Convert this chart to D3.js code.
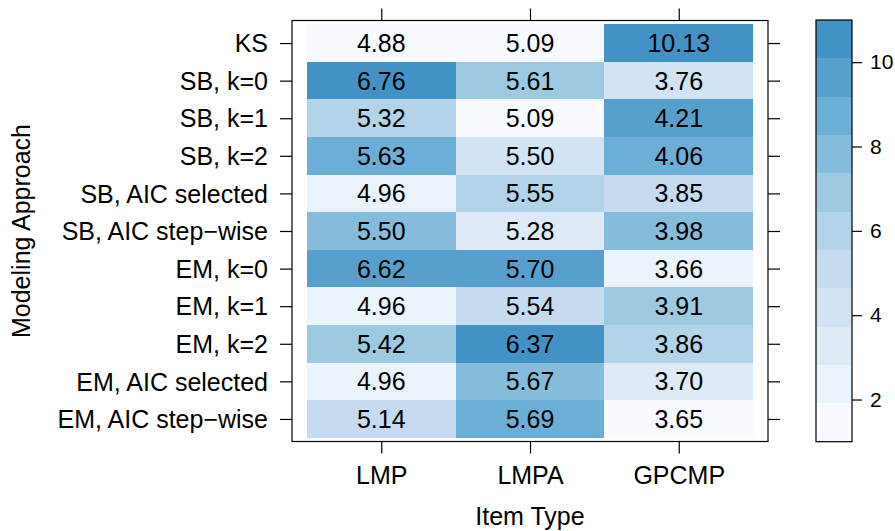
<!DOCTYPE html>
<html>
<head>
<meta charset="utf-8">
<script src="https://cdn.jsdelivr.net/npm/d3@7/dist/d3.min.js"></script>
<style>
  html, body { margin: 0; padding: 0; background: #fff; }
  svg { display: block; font-family: "Liberation Sans", Arial, Helvetica, sans-serif; }
</style>
</head>
<body>
<svg id="chart" width="895" height="531"></svg>
<script>
// ---- data ----
const approaches = ["KS", "SB, k=0", "SB, k=1", "SB, k=2", "SB, AIC selected", "SB, AIC step\u2212wise",
  "EM, k=0", "EM, k=1", "EM, k=2", "EM, AIC selected", "EM, AIC step\u2212wise"];
const itemTypes = ["LMP", "LMPA", "GPCMP"];
const valuesLMP   = [4.88, 6.76, 5.32, 5.63, 4.96, 5.50, 6.62, 4.96, 5.42, 4.96, 5.14];
const valuesLMPA  = [5.09, 5.61, 5.09, 5.50, 5.55, 5.28, 5.70, 5.54, 6.37, 5.67, 5.69];
const valuesGPCMP = [10.13, 3.76, 4.21, 4.06, 3.85, 3.98, 3.66, 3.91, 3.86, 3.70, 3.65];
const keyTicks = [2, 4, 6, 8, 10];
const blues = ["#F7FBFF", "#DEEBF7", "#C6DBEF", "#9ECAE1", "#6BAED6", "#4292C6"];

// colour level = rank within each item type (ties get the lowest rank)
function ranks(arr) {
  return arr.map(v => 1 + arr.filter(w => w < v).length);
}
const columns = [valuesLMP, valuesLMPA, valuesGPCMP];
const cells = [];
columns.forEach((vals, ci) => {
  const rk = ranks(vals);
  vals.forEach((v, ri) => cells.push({ col: ci, row: ri, value: v, level: rk[ri] }));
});

// ---- layout ----
const svg = d3.select("#chart");
const P = { left: 292, right: 768, top: 20.5, bottom: 441.5 };
const fs = 25;
const FF = "'Liberation Sans', Arial, sans-serif";

const x = d3.scaleLinear().domain([0.4, 3.6]).range([P.left, P.right]);
const y = d3.scaleLinear().domain([0.4, 11.6]).range([P.bottom, P.top]);
const rowPos = i => 11 - i; // first approach at top

const nBands = 11;
const breaks = d3.range(nBands + 1).map(i => 1 + i * 10 / nBands);
const interp = d3.piecewise(d3.interpolateRgb, blues);
const bandColors = d3.range(nBands).map(i => interp(i / (nBands - 1)));
const color = d3.scaleThreshold().domain(breaks.slice(1, -1)).range(bandColors);

// cells
svg.append("g").selectAll("rect").data(cells).join("rect")
  .attr("x", d => x(d.col + 1 - 0.5))
  .attr("y", d => y(rowPos(d.row) + 0.5))
  .attr("width", d => x(d.col + 1.5) - x(d.col + 0.5))
  .attr("height", d => y(rowPos(d.row) - 0.5) - y(rowPos(d.row) + 0.5))
  .attr("fill", d => color(d.level))
  .attr("shape-rendering", "crispEdges");

svg.append("g").selectAll("text").data(cells).join("text")
  .attr("x", d => x(d.col + 1))
  .attr("y", d => y(rowPos(d.row)) + 9)
  .attr("text-anchor", "middle")
  .attr("font-size", fs)
  .attr("font-family", FF)
  .attr("fill", "#000")
  .text(d => d.value.toFixed(2));

// panel border
svg.append("rect")
  .attr("x", P.left).attr("y", P.top)
  .attr("width", P.right - P.left).attr("height", P.bottom - P.top)
  .attr("fill", "none").attr("stroke", "#000").attr("stroke-width", 1.2);

// axes
const xBand = d3.scalePoint().domain(itemTypes).range([x(1), x(3)]);
const yBand = d3.scalePoint().domain(approaches).range([y(11), y(1)]);
const tl = 12;

const bottomAxis = svg.append("g").attr("transform", `translate(0,${P.bottom})`)
  .call(d3.axisBottom(xBand).tickSize(tl).tickPadding(8));
const topAxis = svg.append("g").attr("transform", `translate(0,${P.top})`)
  .call(d3.axisTop(xBand).tickSize(tl).tickFormat(""));
const leftAxis = svg.append("g").attr("transform", `translate(${P.left},0)`)
  .call(d3.axisLeft(yBand).tickSize(tl).tickPadding(12));
const rightAxis = svg.append("g").attr("transform", `translate(${P.right},0)`)
  .call(d3.axisRight(yBand).tickSize(tl).tickFormat(""));

[bottomAxis, topAxis, leftAxis, rightAxis].forEach(g => {
  g.attr("font-family", FF);
  g.select(".domain").remove();
  g.selectAll(".tick line").attr("stroke", "#000").attr("stroke-width", 1.2);
  g.selectAll(".tick text").attr("font-size", fs).attr("fill", "#000");
});
bottomAxis.selectAll(".tick text").attr("dy", null).attr("y", 0)
  .attr("transform", "translate(0,42)");
leftAxis.selectAll(".tick text").attr("dy", "0.35em");

// axis titles
svg.append("text")
  .attr("x", (P.left + P.right) / 2).attr("y", 525)
  .attr("text-anchor", "middle").attr("font-size", fs).attr("font-family", FF).attr("fill", "#000")
  .text("Item Type");
svg.append("text")
  .attr("transform", `translate(30,${(P.top + P.bottom) / 2}) rotate(-90)`)
  .attr("text-anchor", "middle").attr("font-size", fs).attr("font-family", FF).attr("fill", "#000")
  .text("Modeling Approach");

// colour key
const K = { left: 816, right: 852, top: 20, bottom: 441.7 };
const ky = d3.scaleLinear().domain([1, 11]).range([K.bottom, K.top]);
svg.append("g").selectAll("rect").data(d3.range(nBands)).join("rect")
  .attr("x", K.left).attr("width", K.right - K.left)
  .attr("y", i => ky(breaks[i + 1]))
  .attr("height", i => ky(breaks[i]) - ky(breaks[i + 1]))
  .attr("fill", i => bandColors[i])
  .attr("shape-rendering", "crispEdges");
svg.append("rect")
  .attr("x", K.left).attr("y", K.top)
  .attr("width", K.right - K.left).attr("height", K.bottom - K.top)
  .attr("fill", "none").attr("stroke", "#000").attr("stroke-width", 1.2);
const keyAxis = svg.append("g").attr("transform", `translate(${K.right},0)`)
  .call(d3.axisRight(ky).tickValues(keyTicks).tickSize(10).tickPadding(8));
keyAxis.attr("font-family", FF);
keyAxis.select(".domain").remove();
keyAxis.selectAll(".tick line").attr("stroke", "#000").attr("stroke-width", 1.2);
keyAxis.selectAll(".tick text").attr("font-size", 21).attr("fill", "#000");
</script>
</body>
</html>
